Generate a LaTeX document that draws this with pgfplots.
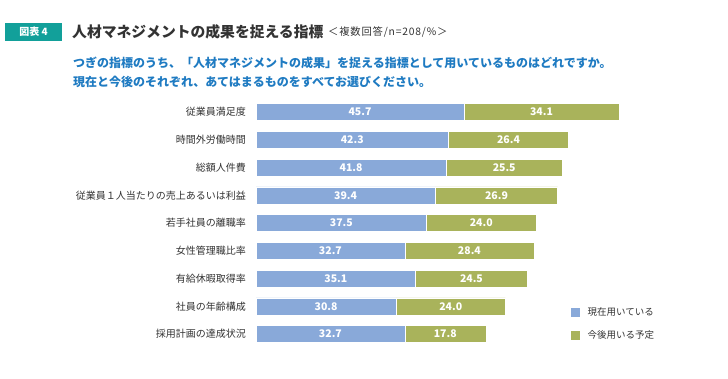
\documentclass[border=0pt]{standalone}
\usepackage{pgfplots}
\pgfplotsset{compat=1.18}
\usepackage{pgfplotstable}
\usepackage{fontspec}
\setmainfont{Noto Sans CJK JP}
\definecolor{barblue}{HTML}{89A9D9}
\definecolor{bargreen}{HTML}{A9B35B}
\definecolor{teal}{HTML}{12A09A}
\definecolor{subblue}{HTML}{1F7BC2}
\definecolor{txt}{HTML}{333333}
\pgfplotstableread{
cat a b
0 45.7 34.1
1 42.3 26.4
2 41.8 25.5
3 39.4 26.9
4 37.5 24.0
5 32.7 28.4
6 35.1 24.5
7 30.8 24.0
8 32.7 17.8
}\data
\pgfplotsset{
  common/.style={
    at={(256pt,30.1pt)}, anchor=south west,
    scale only axis, width=455pt, height=249.75pt,
    xmin=0, xmax=100, ymin=-0.5, ymax=8.5, y dir=reverse,
  }
}
\begin{document}
\begin{tikzpicture}[x=1pt,y=1pt]
\path[use as bounding box, fill=white] (0,0) rectangle (728,378);
% badge & title
\fill[teal] (5,337) rectangle (62,355);
\node[text=white, font=\fontsize{10}{12}\selectfont\bfseries] at (33.5,346) {図表 4};
\node[anchor=west, inner sep=0pt, text=txt, font=\fontsize{14.8}{16}\selectfont\bfseries] at (72,346) {人材マネジメントの成果を捉える指標};
\node[anchor=west, inner sep=0pt, text=txt, font=\fontsize{10.3}{12}\selectfont\addfontfeatures{LetterSpace=8}] at (328,346) {＜複数回答/n=208/\%＞};
\node[anchor=west, inner sep=0pt, text=subblue, font=\fontsize{12}{14}\selectfont\bfseries] at (73,315) {つぎの指標のうち、「人材マネジメントの成果」を捉える指標として用いているものはどれですか。};
\node[anchor=west, inner sep=0pt, text=subblue, font=\fontsize{12}{14}\selectfont\bfseries] at (73,296) {現在と今後のそれぞれ、あてはまるものをすべてお選びください。};
\begin{axis}[common,
  xbar stacked, bar width=17pt,
  axis line style={draw=none}, major tick length=0pt,
  xtick=\empty, ytick=data,
  yticklabels={従業員満足度,時間外労働時間,総額人件費,従業員１人当たりの売上あるいは利益,若手社員の離職率,女性管理職比率,有給休暇取得率,社員の年齢構成,採用計画の達成状況},
  yticklabel style={font=\fontsize{10}{12}\selectfont, text=txt, inner sep=0pt, xshift=-10pt},
  legend style={at={(0.69,0.172)}, anchor=north west, draw=none, fill=none,
    font=\fontsize{9.5}{11}\selectfont, text=txt, row sep=10pt, column sep=5pt, inner sep=0pt,
    nodes={inner sep=2pt}},
  legend cell align=left,
  legend image code/.code={\fill[#1] (0pt,-5pt) rectangle (10pt,5pt);},
]
\addplot[fill=barblue, draw=white, line width=0.5pt] table[x=a, y=cat]{\data};
\addplot[fill=bargreen, draw=white, line width=0.5pt] table[x=b, y=cat]{\data};
\legend{現在用いている,今後用いる予定}
\end{axis}
\begin{axis}[common, hide axis,
  nodes near coords={\pgfmathprintnumber[fixed,fixed zerofill,precision=1,assume math mode=true]{\pgfplotspointmeta}},
  every node near coord/.append style={anchor=center, text=white, font=\fontsize{10.5}{12}\selectfont\bfseries},
  point meta=explicit,
]
\addplot[only marks, mark=none] table[x expr=\thisrow{a}/2, y=cat, meta=a]{\data};
\addplot[only marks, mark=none] table[x expr=\thisrow{a}+\thisrow{b}/2, y=cat, meta=b]{\data};
\end{axis}
\end{tikzpicture}
\end{document}
